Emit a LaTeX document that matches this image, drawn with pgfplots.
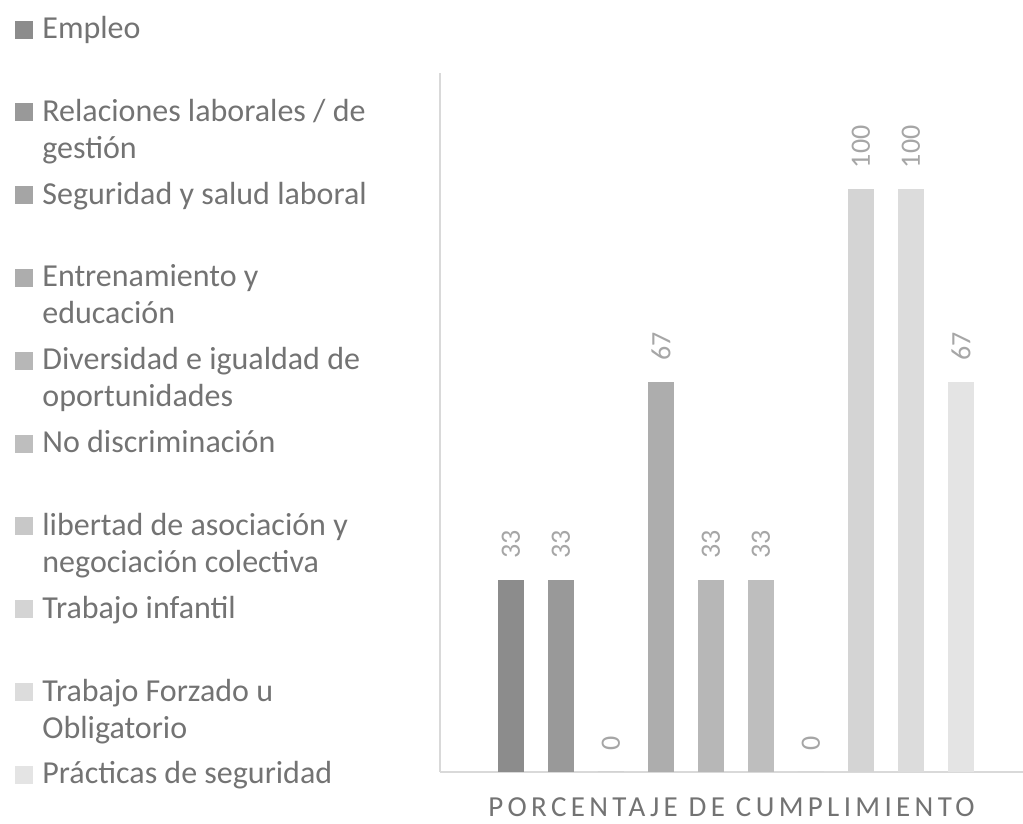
\documentclass[border=0pt]{standalone}
\usepackage{pgfplots}
\pgfplotsset{compat=1.18}
\usepackage{fontspec}
\setmainfont{Carlito}
\definecolor{txt}{HTML}{737373}
\definecolor{lbl}{HTML}{A6A6A6}
\definecolor{axl}{HTML}{D9D9D9}
\definecolor{c1}{HTML}{8C8C8C}
\definecolor{c2}{HTML}{999999}
\definecolor{c3}{HTML}{A5A5A5}
\definecolor{c4}{HTML}{ADADAD}
\definecolor{c5}{HTML}{B7B7B7}
\definecolor{c6}{HTML}{BEBEBE}
\definecolor{c7}{HTML}{C8C8C8}
\definecolor{c8}{HTML}{D4D4D4}
\definecolor{c9}{HTML}{DCDCDC}
\definecolor{c10}{HTML}{E4E4E4}
\newcommand{\legtxt}[1]{\parbox[t][41.4pt][t]{190pt}{\raggedright #1}}
\begin{document}
\begin{tikzpicture}
\useasboundingbox (-220pt,-26pt) rectangle (291.5pt,386pt);
\begin{axis}[name=ax, scale only axis, width=291.5pt, height=349.5pt,
 xmin=-0.42, xmax=11.24, ymin=0, ymax=120,
 axis x line=bottom, axis y line=left,
 axis line style={-, draw=axl, line width=0.9pt},
 xtick=\empty, ytick=\empty,
 clip=false,
 ybar,
 /pgf/number format/assume math mode=true,
 xlabel={\addfontfeature{LetterSpace=15}PORCENTAJE DE CUMPLIMIENTO},
 xlabel style={at={(axis description cs:0.5,0)}, anchor=base, yshift=-22.5pt, font=\fontsize{14.5}{16}\selectfont, text=txt},
 nodes near coords,
 every node near coord/.append style={rotate=90, anchor=west, inner xsep=10.5pt, font=\fontsize{14}{16}\selectfont, text=lbl},
 legend style={at={(0,1)}, anchor=north west, xshift=-212.5pt, yshift=28.5pt, draw=none, fill=none, inner sep=0pt, row sep=0pt, column sep=4.5pt, font=\fontsize{16}{18.5}\selectfont, text=txt, nodes={inner sep=0pt, text depth=, anchor=base west}},
 legend cell align=left,
 legend image code/.code={\fill[#1] (0pt,0pt) rectangle (9pt,9pt);},
]
\addplot[fill=c1, draw=none, bar width=13pt, bar shift=0pt] coordinates {(1,33)};
\addlegendentry{\legtxt{Empleo}}
\addplot[fill=c2, draw=none, bar width=13pt, bar shift=0pt] coordinates {(2,33)};
\addlegendentry{\legtxt{Relaciones laborales / de\\gestión}}
\addplot[fill=c3, draw=none, bar width=13pt, bar shift=0pt] coordinates {(3,0)};
\addlegendentry{\legtxt{Seguridad y salud laboral}}
\addplot[fill=c4, draw=none, bar width=13pt, bar shift=0pt] coordinates {(4,67)};
\addlegendentry{\legtxt{Entrenamiento y\\educación}}
\addplot[fill=c5, draw=none, bar width=13pt, bar shift=0pt] coordinates {(5,33)};
\addlegendentry{\legtxt{Diversidad e igualdad de\\oportunidades}}
\addplot[fill=c6, draw=none, bar width=13pt, bar shift=0pt] coordinates {(6,33)};
\addlegendentry{\legtxt{No discriminación}}
\addplot[fill=c7, draw=none, bar width=13pt, bar shift=0pt] coordinates {(7,0)};
\addlegendentry{\legtxt{libertad de asociación y\\negociación colectiva}}
\addplot[fill=c8, draw=none, bar width=13pt, bar shift=0pt] coordinates {(8,100)};
\addlegendentry{\legtxt{Trabajo infantil}}
\addplot[fill=c9, draw=none, bar width=13pt, bar shift=0pt] coordinates {(9,100)};
\addlegendentry{\legtxt{Trabajo Forzado u\\Obligatorio}}
\addplot[fill=c10, draw=none, bar width=13pt, bar shift=0pt] coordinates {(10,67)};
\addlegendentry{\legtxt{Prácticas de seguridad}}
\end{axis}
\end{tikzpicture}
\end{document}
